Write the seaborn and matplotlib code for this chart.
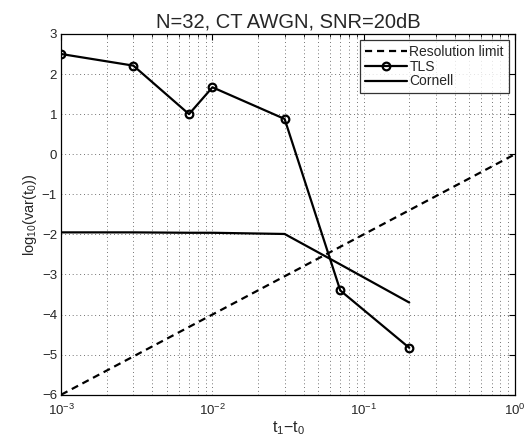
import matplotlib
matplotlib.use("Agg")
import matplotlib.pyplot as plt
from matplotlib.ticker import LogLocator, NullFormatter
import pandas as pd
import seaborn as sns

# values
res_x = [1e-3, 1e0]
res_y = [-6, 0]

tls_x = [1e-3, 3e-3, 7e-3, 1e-2, 3e-2, 7e-2, 2e-1]
tls_y = [2.5, 2.21, 1.0, 1.67, 0.88, -3.4, -4.83]

cornell_x = [1e-3, 3e-3, 7e-3, 1e-2, 3e-2, 7e-2, 2e-1]
cornell_y = [-1.95, -1.95, -1.96, -1.96, -1.99, -2.75, -3.70]

sns.set_style("white")
plt.rcParams["font.family"] = ["Liberation Sans", "DejaVu Sans"]
plt.rcParams["mathtext.fontset"] = "custom"
plt.rcParams["mathtext.rm"] = "Liberation Sans"
plt.rcParams["mathtext.it"] = "Liberation Sans"

fig, ax = plt.subplots(figsize=(5.32, 4.47), dpi=100)
fig.subplots_adjust(left=0.115, right=0.968, top=0.924, bottom=0.117)

res = pd.DataFrame({"x": res_x, "y": res_y})
tls = pd.DataFrame({"x": tls_x, "y": tls_y})
cor = pd.DataFrame({"x": cornell_x, "y": cornell_y})

lw = 1.6
sns.lineplot(data=res, x="x", y="y", ax=ax, color="black", lw=lw,
             linestyle=(0, (3.2, 2.2)), label="Resolution limit", sort=False)
sns.lineplot(data=tls, x="x", y="y", ax=ax, color="black", lw=lw,
             marker="o", markersize=5.5, markerfacecolor="none",
             markeredgecolor="black", markeredgewidth=1.6,
             label="TLS", sort=False)
sns.lineplot(data=cor, x="x", y="y", ax=ax, color="black", lw=lw,
             label="Cornell", sort=False)

ax.set_xscale("log")
ax.set_xlim(1e-3, 1e0)
ax.set_ylim(-6, 3)
ax.set_yticks(range(-6, 4))
ax.set_yticklabels(["\u22126", "\u22125", "\u22124", "\u22123", "\u22122",
                    "\u22121", "0", "1", "2", "3"])
ax.xaxis.set_major_locator(LogLocator(base=10, numticks=10))
ax.xaxis.set_minor_locator(LogLocator(base=10, subs=range(2, 10), numticks=10))
ax.xaxis.set_minor_formatter(NullFormatter())

ax.grid(True, which="major", color="#444444", linestyle=(0, (1, 3.5)), lw=0.6)
ax.grid(True, which="minor", axis="x", color="#444444", linestyle=(0, (1, 3.5)), lw=0.6)

ax.tick_params(which="both", direction="in", top=True, right=True,
               labelsize=9.5, color="black", pad=3)
ax.tick_params(axis="x", which="major", pad=6)
ax.tick_params(which="major", length=4)
ax.tick_params(which="minor", length=2)
for s in ax.spines.values():
    s.set_color("black")
    s.set_linewidth(0.9)

ax.set_title("N=32, CT AWGN, SNR=20dB", fontsize=14.5, pad=5)
ax.set_xlabel("t$_1$\u2212t$_0$", fontsize=11.5, labelpad=1)
ax.set_ylabel("log$_{10}$(var(t$_0$))", fontsize=10.5, labelpad=2)

leg = ax.legend(loc="upper right", fontsize=10, frameon=True, fancybox=False,
                edgecolor="black", handlelength=3.0, handletextpad=0.2,
                borderaxespad=0.45, borderpad=0.35, labelspacing=0.05)
leg.get_frame().set_linewidth(0.9)

fig.savefig("out.png", dpi=100)
